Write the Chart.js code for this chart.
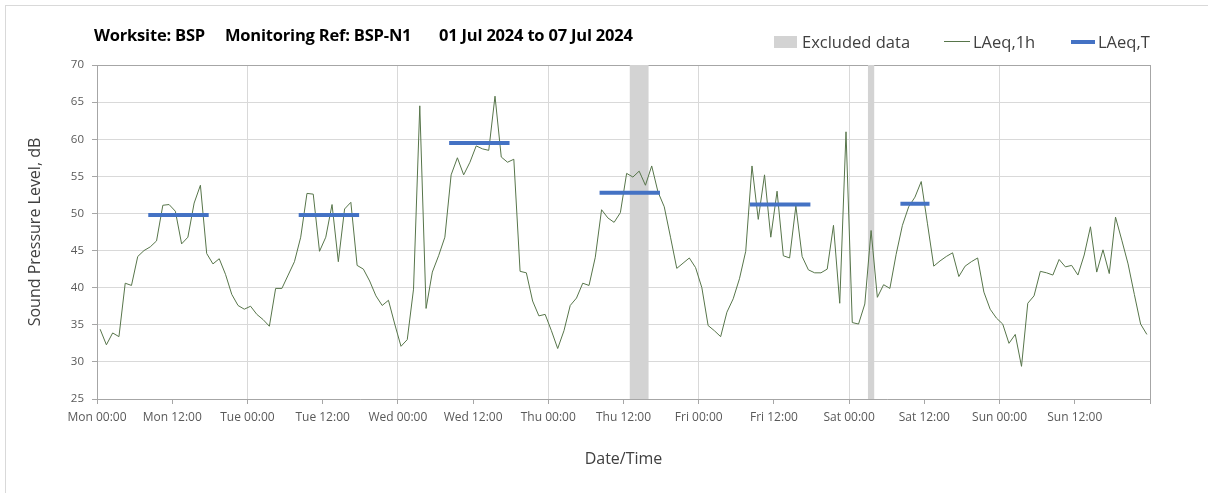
<!DOCTYPE html>
<html><head><meta charset="utf-8">
<script src="https://cdn.jsdelivr.net/npm/chart.js@4"></script>
<style>
html,body{margin:0;padding:0;background:#fff;}
#wrap{position:relative;width:1208px;height:493px;overflow:hidden;font-family:"Open Sans",sans-serif;}
#frame{position:absolute;left:5px;top:5px;width:1300px;height:600px;border:1px solid #d9d9d9;}
canvas{position:absolute;left:0;top:0;}
.t{position:absolute;top:25px;font-weight:bold;font-size:16.5px;color:#000;white-space:nowrap;line-height:20px;letter-spacing:-0.2px;}
.lg{position:absolute;top:31px;font-size:16.5px;color:#404040;white-space:nowrap;line-height:22px;}
.sw{position:absolute;}
</style></head>
<body><div id="wrap"><div id="frame"></div><canvas id="c" width="1208" height="493"></canvas>
<div class="t" style="left:94px">Worksite: BSP</div>
<div class="t" style="left:225px">Monitoring Ref: BSP-N1</div>
<div class="t" style="left:439px">01 Jul 2024 to 07 Jul 2024</div>
<div class="sw" style="left:774px;top:36px;width:23px;height:12px;background:#d3d3d3"></div>
<div class="lg" style="left:802px">Excluded data</div>
<div class="sw" style="left:944px;top:41px;width:26px;height:1px;background:#57754a"></div>
<div class="lg" style="left:973px">LAeq,1h</div>
<div class="sw" style="left:1071px;top:40px;width:24px;height:4px;background:#4472c4"></div>
<div class="lg" style="left:1098px">LAeq,T</div>
</div>
<script>
// ---- data ----
const dayNames = ['Mon','Tue','Wed','Thu','Fri','Sat','Sun'];
const timeLabels = ['00:00','12:00'];
const yTicks = [25,30,35,40,45,50,55,60,65,70];
// hourly LAeq,1h from Mon 00:00 (hour index 0..167)
const laeq1h = [
 34.4,32.3,33.9,33.4,40.6,40.3,44.2,45.0,45.5,46.3,51.1,51.2,50.3,45.9,46.8,51.4,53.8,44.6,43.2,43.9,41.8,39.1,37.6,37.1,
 37.5,36.4,35.7,34.8,39.9,39.9,41.7,43.5,46.8,52.7,52.6,44.9,46.8,51.2,43.5,50.6,51.5,43.0,42.5,40.9,38.9,37.6,38.3,35.1,
 32.1,33.0,39.8,64.5,37.2,42.1,44.3,46.8,55.2,57.5,55.2,56.9,59.1,58.7,58.5,65.8,57.6,56.9,57.3,42.2,42.0,38.2,36.2,36.4,
 34.2,31.8,34.2,37.6,38.6,40.6,40.3,44.1,50.5,49.4,48.8,50.1,55.4,54.9,55.7,53.8,56.4,52.9,50.9,46.8,42.6,43.3,44.0,42.7,
 40.0,34.9,34.2,33.4,36.7,38.5,41.2,44.9,56.4,49.2,55.2,46.8,53.0,44.3,44.0,51.0,44.2,42.4,42.0,42.0,42.5,48.4,37.9,61.0,
 35.3,35.1,37.8,47.7,38.7,40.4,39.9,44.5,48.4,50.9,52.2,54.3,48.6,42.9,43.6,44.2,44.7,41.5,42.9,43.5,44.0,39.4,37.1,35.9,
 35.1,32.5,33.7,29.4,37.9,38.9,42.2,42.0,41.7,43.8,42.8,43.0,41.7,44.4,48.2,42.1,45.1,41.9,49.5,46.4,43.2,39.1,35.1,33.7
];
// LAeq,T periods (first and last hour index) and values
const periodStart = [8, 32, 56, 80, 104, 128];
const periodEnd   = [17, 41, 65, 89, 113, 132];
const laeqT       = [49.8, 49.8, 59.5, 52.8, 51.2, 51.3];
// excluded data (hour index ranges)
const excludedStart = [85, 123];
const excludedEnd   = [88, 124];

// ---- build datasets ----
const lineData = laeq1h.map((v,i)=>({x:i+0.5, y:v}));
const tData = [];
for (let k=0;k<laeqT.length;k++){
  tData.push({x:periodStart[k]+0.5, y:laeqT[k]});
  tData.push({x:periodEnd[k]+0.5, y:laeqT[k]});
  tData.push({x:periodEnd[k]+1, y:null});
}

const bandPlugin = {
  id:'bands',
  beforeDatasetsDraw(chart){
    const {ctx, chartArea, scales:{x}} = chart;
    ctx.save();
    ctx.fillStyle = '#d3d3d3';
    for (let k=0;k<excludedStart.length;k++){
      const x0 = x.getPixelForValue(excludedStart[k]);
      const x1 = x.getPixelForValue(excludedEnd[k]);
      ctx.fillRect(x0, chartArea.top, x1-x0, chartArea.bottom-chartArea.top);
    }
    ctx.restore();
  }
};

const FF = '"Open Sans", sans-serif';
new Chart(document.getElementById('c'), {
  type:'line',
  data:{datasets:[
    {label:'LAeq,T', data:tData, borderColor:'#4472c4', borderWidth:4, pointRadius:0, spanGaps:false, borderCapStyle:'square', tension:0},
    {label:'LAeq,1h', data:lineData, borderColor:'#57754a', borderWidth:1, pointRadius:0, tension:0}
  ]},
  options:{
    responsive:false, animation:false, devicePixelRatio:1,
    layout:{padding:{top:65,right:58,bottom:0,left:0}},
    plugins:{legend:{display:false}, title:{display:false}, tooltip:{enabled:false}},
    scales:{
      x:{type:'linear', min:0, max:168,
        afterBuildTicks:s=>{ s.ticks=[]; for(let v=0;v<=168;v+=12) s.ticks.push({value:v}); },
        ticks:{autoSkip:false, maxRotation:0, minRotation:0, padding:6, color:'#595959', font:{family:FF,size:12},
          callback:v=> v>=168 ? '' : dayNames[Math.floor(v/24)]+' '+timeLabels[(v%24)/12]},
        grid:{color:c=> (c.tick && c.tick.value%24===0) ? (c.tick.value===168?'#a6a6a6':'#d9d9d9') : 'rgba(0,0,0,0)',
          tickColor:'#a6a6a6', tickLength:5},
        border:{color:'#a6a6a6'},
        title:{display:true, text:'Date/Time', color:'#404040', font:{family:FF,size:16}, padding:{top:0,bottom:24}},
        afterFit:s=>{ s.height=94; }
      },
      y:{min:25, max:70,
        afterBuildTicks:s=>{ s.ticks = yTicks.map(v=>({value:v})); },
        ticks:{padding:8, color:'#595959', font:{family:FF,size:11.5}},
        grid:{color:c=> (c.tick && c.tick.value===70) ? '#a6a6a6' : '#d9d9d9', tickColor:'#a6a6a6', tickLength:5},
        border:{color:'#a6a6a6'},
        title:{display:true, text:'Sound Pressure Level, dB', color:'#404040', font:{family:FF,size:16}, padding:{top:26,bottom:0}},
        afterFit:s=>{ s.width=97; }
      }
    }
  },
  plugins:[bandPlugin]
});
</script>
</body></html>
